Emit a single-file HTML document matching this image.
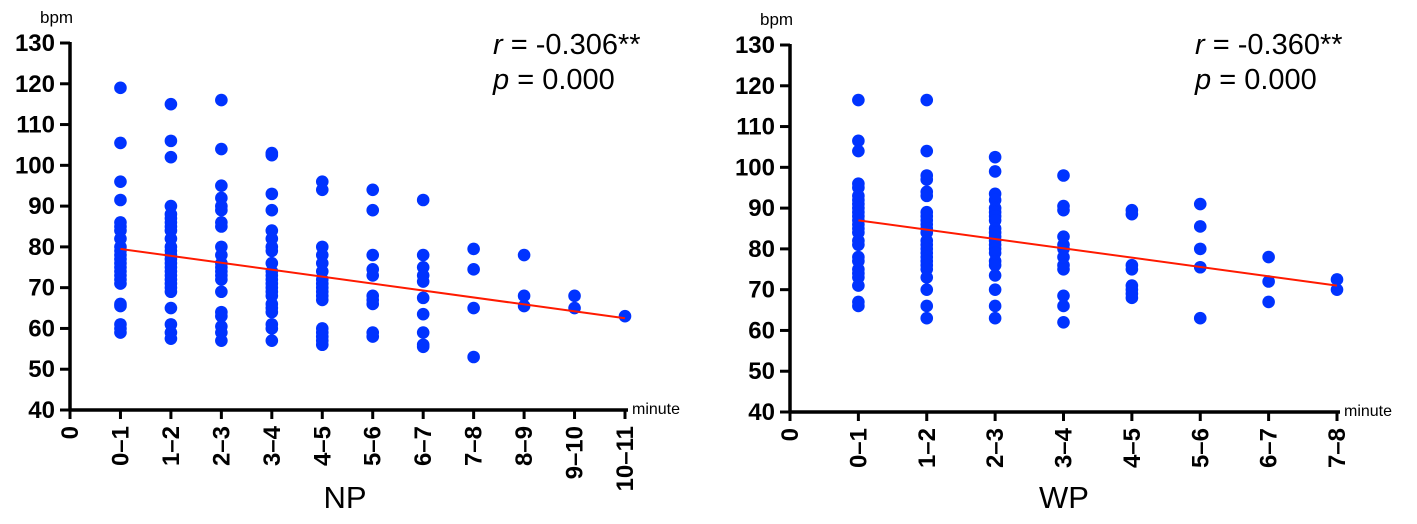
<!DOCTYPE html>
<html><head><meta charset="utf-8"><style>
body{margin:0;background:#fff}
svg{display:block;font-family:"Liberation Sans",Arial,sans-serif}
</style></head><body>
<svg id="c" width="1417" height="524" viewBox="0 0 1417 524"></svg>
<script>
const npCats=["0","0–1","1–2","2–3","3–4","4–5","5–6","6–7","7–8","8–9","9–10","10–11"];
const npVals=[[],
[119,105.5,96,91.5,86,85,84,82,80,79,78,77,76,75,74,73,72,71,66,65.5,61,60,59],
[115,106,102,90,88,87,86,85,84,82,80,79,78,77,76,75,74,73,72,71,70,69,65,61,59,57.5],
[116,104,95,92,90,89,86,85,80,78,76,75,74,73,72,69,64,63,60.5,59,57],
[103,102.5,93,89,84,82,80,79,76,74,73,72,71,70,69,68,66,65,64,61,60,57],
[96,94,80,78,76,74,72,71,70,69,68,67,60,59,58,57,56],
[94,89,78,74.5,73,68,67,66,59,58],
[91.5,78,75,73,71.5,67.5,63.5,59,56,55.5],
[79.5,74.5,65,53],
[78,68,65.5],
[68,65],
[63]];
const npFit=[79.5,62.5];
const wpCats=["0","0–1","1–2","2–3","3–4","4–5","5–6","6–7","7–8"];
const wpVals=[[],
[116.5,106.5,104,96,95,93,92,91,90,89,88,87,86,85,84,82,81,78,77,75,74,73,71,67,66],
[116.5,104,98,97,94,93,89,88,87,86,85,84,82,81,80,79,78,77,76,75,73,70,66,63],
[102.5,99,93.5,92,90,89,88,87,85,84,83,82,81,80,79,77,76,73.5,70,66,63],
[98,90.5,89.5,83,81,80,78,76,75,68.5,66,62],
[89.5,88.5,76,75,71,70,69,68],
[91,85.5,80,75.5,63],
[78,72,67],
[72.5,70]];
const wpFit=[87,71];
const yTicks=[40,50,60,70,80,90,100,110,120,130];
const NS="http://www.w3.org/2000/svg";
const svg=document.getElementById('c');
function mk(t,a,p){const e=document.createElementNS(NS,t);for(const k in a)e.setAttribute(k,a[k]);(p||svg).appendChild(e);return e;}
function panel(id,x0,xEnd,yTop,yBot,cats,vals,fit,title,rtxt,ptxt,textX,titleX){
  const g=mk('g',{});
  
  
  const step=(xEnd-x0)/(cats.length-1);
  const X=i=>x0+i*step;
  const Y=v=>yBot-(v-40)/90*(yBot-yTop);
  const ya=mk('line',{x1:x0,y1:yTop-1,x2:x0,y2:yBot+1.5,stroke:'#000','stroke-width':3.5},g);
  
  const xa=mk('line',{x1:x0-1.5,y1:yBot,x2:xEnd+3,y2:yBot,stroke:'#000','stroke-width':3.5},g);
  
  yTicks.forEach(v=>{
    mk('line',{x1:x0-10,y1:Y(v),x2:x0,y2:Y(v),stroke:'#000','stroke-width':3},g);
    const t=mk('text',{x:x0-15,y:Y(v)+8,'text-anchor':'end','font-size':24,'font-weight':'bold'},g);
    t.textContent=v;
    
  });
  cats.forEach((c,i)=>{
    mk('line',{x1:X(i),y1:yBot,x2:X(i),y2:yBot+9,stroke:'#000','stroke-width':3},g);
    const t=mk('text',{x:X(i)+8,y:yBot+16,'text-anchor':'end','font-size':24,'font-weight':'bold',transform:`rotate(-90 ${X(i)+8} ${yBot+16})`},g);
    t.textContent=c;
    
  });
  vals.forEach((arr,i)=>arr.forEach(v=>{
    const d=mk('circle',{cx:X(i),cy:Y(v),r:6.3,fill:'#0033ff'},g);
    
  }));
  const ln=mk('line',{x1:X(1),y1:Y(fit[0]),x2:X(cats.length-1),y2:Y(fit[1]),stroke:'#ff1a00','stroke-width':2},g);
  
  const b=mk('text',{x:x0-30,y:yTop-20,'font-size':17},g);b.textContent='bpm';
  
  const m=mk('text',{x:xEnd+7,y:yBot+4,'font-size':16},g);m.textContent='minute';
  
  const tt=mk('text',{x:titleX,y:508,'text-anchor':'middle','font-size':31},g);tt.textContent=title;
  
  const r=mk('text',{x:textX,y:54,'font-size':29},g);
  r.innerHTML='<tspan font-style="italic">r</tspan> = '+rtxt;
  
  const p=mk('text',{x:textX,y:89,'font-size':29},g);
  p.innerHTML='<tspan font-style="italic">p</tspan> = '+ptxt;
  
}
panel('np',70,625,43,410,npCats,npVals,npFit,'NP','-0.306**','0.000',493,345);
panel('wp',790,1337,45,412,wpCats,wpVals,wpFit,'WP','-0.360**','0.000',1195,1064);
</script>
</body></html>
